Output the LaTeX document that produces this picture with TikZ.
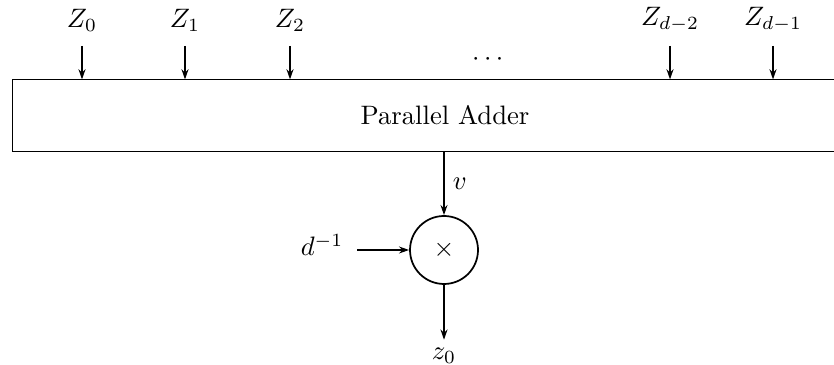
\documentclass[tikz,border=0pt]{standalone}
\usepackage{amsmath,amssymb}
\usepackage{tikz}
\usetikzlibrary{arrows.meta,positioning,calc}
\tikzset{
  arr/.style={-{Stealth[length=3.8pt,width=2.6pt]},line width=0.65pt},
  lbl/.style={inner sep=1pt},
  mulop/.style={draw,circle,line width=0.65pt,minimum size=25.5pt,inner sep=0pt},
}

\begin{document}
\begin{tikzpicture}[x=0.375pt,y=-0.375pt]
 \clip (0,0) rectangle (834,365);
 \node[minimum width=864*0.375pt,minimum height=71*0.375pt,inner sep=0pt] (adder) at (445,115.5) {Parallel Adder};
 \draw[line width=0.65pt] (adder.north east) -- (adder.north west) -- (adder.south west) -- (adder.south east);
 % inputs
 \foreach \x/\n/\t in {82/za/Z_0,185/zb/Z_1,290/zc/Z_2,670/zd/Z_{d-2},773/ze/Z_{d-1}}{
   \node[lbl] (\n) at (\x,20) {$\t$};
   \coordinate (\n top) at (\x,46);
   \draw[arr] (\n top) -- (\n top |- adder.north);
 }
 \node (dots) at (490,60) {$\cdots$};
 % multiplier
 \node[mulop] (mul) at (444,250) {$\times$};
 \draw[arr] (adder.south -| mul) -- node[right,lbl,xshift=2pt] {$v$} (mul.north);
 \node[lbl] (dinv) at (322,245) {$d^{-1}$};
 \draw[arr] ([xshift=4pt]dinv.east |- mul.west) -- (mul.west);
 \node[lbl] (out) at (444,356) {$z_0$};
 \draw[arr] (mul.south) -- ([yshift=2pt]out.north);
\end{tikzpicture}
\end{document}
